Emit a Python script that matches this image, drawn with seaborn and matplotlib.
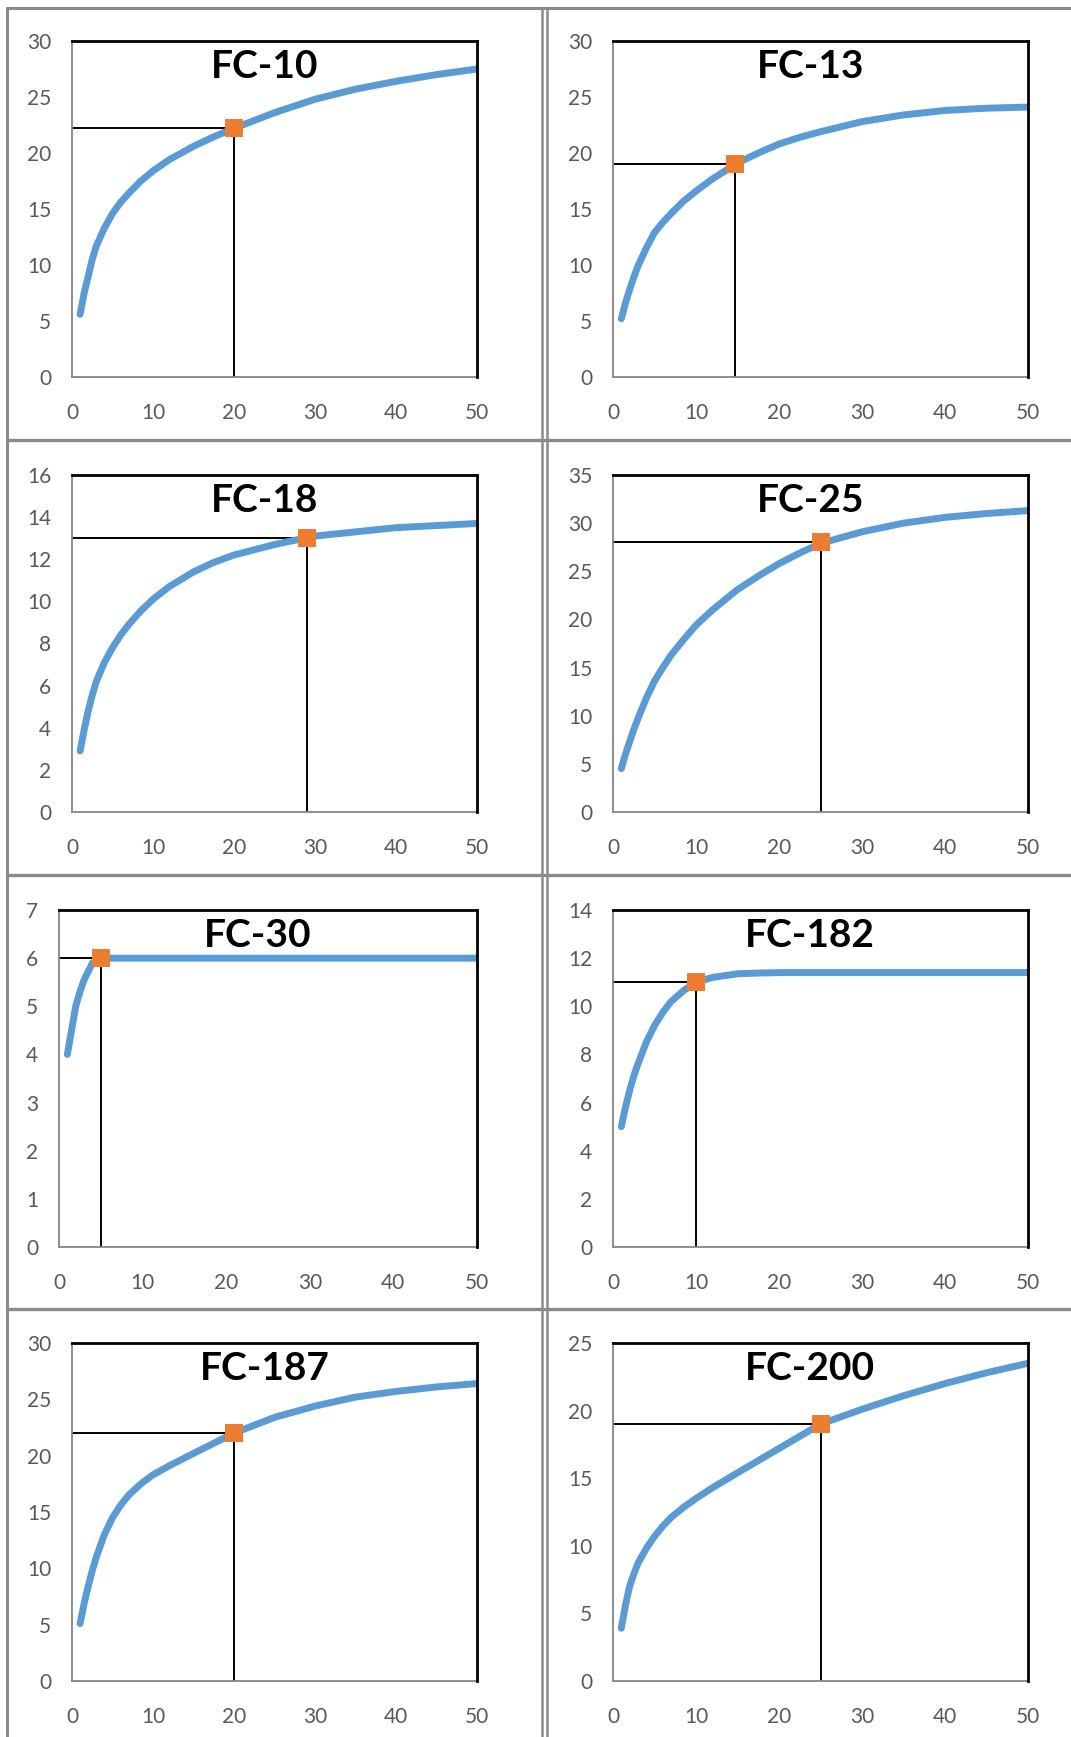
import matplotlib
matplotlib.use("Agg")
import matplotlib.pyplot as plt
from matplotlib.lines import Line2D
import seaborn as sns
import pandas as pd

sns.set_style("white")
plt.rcParams['font.family'] = ['Lato', 'DejaVu Sans']

# ---------------- data ----------------
x_vals = [1, 1.5, 2, 2.5, 3, 4, 5, 6, 7, 8.5, 10, 12, 15, 17.5, 20, 22.5, 25, 30, 35, 40, 45, 50]

fc10_y  = [5.6, 7.5, 9.0, 10.5, 11.7, 13.3, 14.6, 15.6, 16.4, 17.5, 18.4, 19.4, 20.6, 21.45, 22.2, 22.9, 23.6, 24.8, 25.7, 26.4, 27.0, 27.5]
fc13_y  = [5.2, 6.6, 7.8, 8.9, 9.9, 11.5, 12.9, 13.8, 14.6, 15.7, 16.6, 17.7, 19.1, 20.0, 20.8, 21.4, 21.9, 22.8, 23.4, 23.8, 24.0, 24.1]
fc18_y  = [2.9, 3.9, 4.8, 5.55, 6.2, 7.1, 7.8, 8.4, 8.9, 9.55, 10.1, 10.7, 11.4, 11.85, 12.2, 12.45, 12.7, 13.1, 13.3, 13.5, 13.6, 13.7]
fc25_y  = [4.5, 6.0, 7.3, 8.55, 9.7, 11.8, 13.6, 15.0, 16.3, 17.9, 19.4, 21.0, 23.1, 24.5, 25.8, 26.9, 27.9, 29.1, 30.0, 30.6, 31.0, 31.3]
fc30_y  = [4.0, 4.5, 5.0, 5.3, 5.55, 5.9, 6.0, 6.0, 6.0, 6.0, 6.0, 6.0, 6.0, 6.0, 6.0, 6.0, 6.0, 6.0, 6.0, 6.0, 6.0, 6.0]
fc182_y = [5.0, 5.8, 6.5, 7.1, 7.6, 8.5, 9.2, 9.75, 10.2, 10.65, 11.0, 11.2, 11.35, 11.38, 11.4, 11.4, 11.4, 11.4, 11.4, 11.4, 11.4, 11.4]
fc187_y = [5.1, 6.9, 8.4, 9.8, 11.0, 13.0, 14.5, 15.6, 16.5, 17.5, 18.3, 19.1, 20.2, 21.1, 22.0, 22.7, 23.4, 24.4, 25.2, 25.7, 26.1, 26.4]
fc200_y = [3.9, 5.6, 7.0, 7.9, 8.7, 9.8, 10.7, 11.45, 12.1, 12.85, 13.5, 14.3, 15.4, 16.3, 17.2, 18.1, 19.0, 20.1, 21.1, 22.0, 22.8, 23.5]

titles   = ["FC-10", "FC-13", "FC-18", "FC-25", "FC-30", "FC-182", "FC-187", "FC-200"]
series   = [fc10_y, fc13_y, fc18_y, fc25_y, fc30_y, fc182_y, fc187_y, fc200_y]
marker_x = [20, 14.7, 29, 25, 5, 10, 20, 25]
marker_y = [22.2, 19, 13, 28, 6, 11, 22, 19]
y_max    = [30, 30, 16, 35, 7, 14, 30, 25]
y_step   = [5, 5, 2, 5, 1, 2, 5, 5]
x_ticks  = [0, 10, 20, 30, 40, 50]

# ---------------- layout (pixels) ----------------
W, H = 1071, 1737
rows = [(41, 377), (475, 812), (910, 1247), (1343, 1681)]
cols = [(72, 477), (613, 1028)]

fig = plt.figure(figsize=(W / 100, H / 100), dpi=100)
fig.patch.set_facecolor("white")

BLUE = "#5B9BD5"
ORANGE = "#ED7D31"
GREY = "#868686"
TXT = "#595959"

for i in range(8):
    r, c = divmod(i, 2)
    top, bot = rows[r]
    left, right = cols[c]
    if titles[i] == "FC-30":
        left = 59
    ax = fig.add_axes([left / W, 1 - bot / H, (right - left) / W, (bot - top) / H])

    df = pd.DataFrame({"x": x_vals, "y": series[i]})
    sns.lineplot(data=df, x="x", y="y", ax=ax, color=BLUE, linewidth=5.0,
                 solid_capstyle="round", solid_joinstyle="round", zorder=3)

    mx, my = marker_x[i], marker_y[i]
    ax.plot([0, mx], [my, my], color="black", linewidth=1.4, zorder=2)
    ax.plot([mx, mx], [0, my], color="black", linewidth=1.4, zorder=2)
    sns.scatterplot(x=[mx], y=[my], ax=ax, marker="s", s=160, color=ORANGE,
                    edgecolor=ORANGE, linewidth=0, zorder=5)

    ax.set_xlim(0, 50)
    ax.set_ylim(0, y_max[i])
    ax.set_xticks(x_ticks)
    ax.set_yticks(list(range(0, y_max[i] + 1, y_step[i])))
    ax.set_xlabel("")
    ax.set_ylabel("")
    ax.grid(False)

    for s in ["left", "bottom"]:
        ax.spines[s].set_color(GREY)
        ax.spines[s].set_linewidth(1.3)
    for s in ["top", "right"]:
        ax.spines[s].set_color("black")
        ax.spines[s].set_linewidth(2.0)
        ax.spines[s].set_zorder(4)

    ax.tick_params(axis="both", direction="out", length=6, width=1.2, color=GREY,
                   labelsize=15, labelcolor=TXT)
    ax.tick_params(axis="x", pad=13)
    ax.tick_params(axis="y", pad=9)
    ax.tick_params(top=False, right=False)

    ax.text(0.475, 0.925, titles[i], transform=ax.transAxes, ha="center", va="center",
            fontsize=28, fontweight="bold", color="black", zorder=6)

# ---------------- grey cell borders ----------------
def vline(x, y0, y1, lw=2.2):
    fig.add_artist(Line2D([x / W, x / W], [1 - y0 / H, 1 - y1 / H], color="#8a8a8a", linewidth=lw))

def hline(y, x0, x1, lw=2.2):
    fig.add_artist(Line2D([x0 / W, x1 / W], [1 - y / H, 1 - y / H], color="#8a8a8a", linewidth=lw))

vline(7, 8, H)
vline(542, 8, H, lw=1.8)
vline(547, 8, H, lw=1.8)
hline(8, 7, W)
for yy in [440, 875, 1309]:
    hline(yy, 7, W, lw=2.4)

fig.savefig("out.png", dpi=100, facecolor="white")
